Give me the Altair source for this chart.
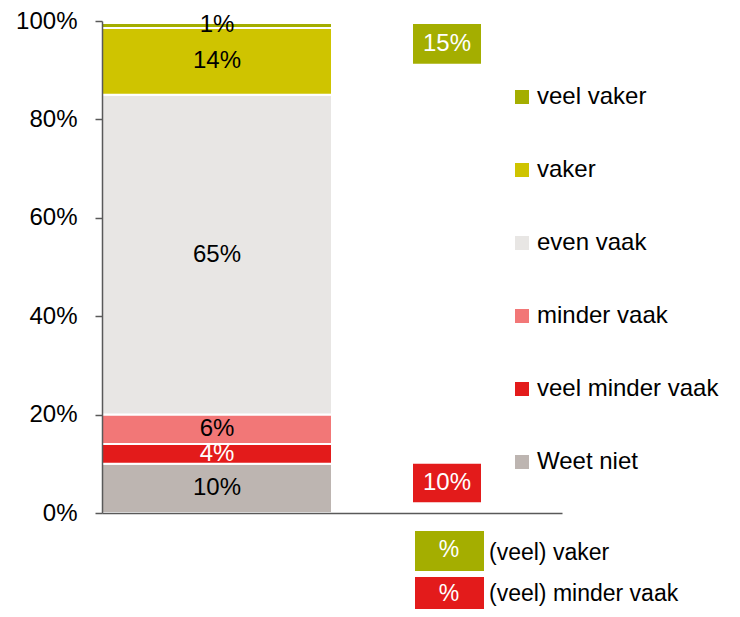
import altair as alt
import pandas as pd

# ---- data ----
segments = ["Weet niet", "veel minder vaak", "minder vaak", "even vaak", "vaker", "veel vaker"]
values = [10, 4, 6, 65, 13.6, 1.0]
label_fill = ["black", "white", "black", "black", "black", "black"]

legend_order = ["veel vaker", "vaker", "even vaak", "minder vaak", "veel minder vaak", "Weet niet"]
legend_colors = ["#A4AE00", "#CFC400", "#E8E6E4", "#F27777", "#E31B1B", "#BDB5B1"]

y_ticks = [0, 20, 40, 60, 80, 100]
columns = ["A", "B"]

FONT = "Liberation Sans"
FS = 24
KFS = 23
AXIS_COLOR = "#595959"
GREEN = "#A4AE00"
RED = "#E31B1B"

# ---- tables built from the arrays ----
rows = []
acc = 0.0
for seg, v, f in zip(segments, values, label_fill):
    rows.append({"col": "A", "seg": seg, "start": acc, "end": acc + v,
                 "mid": acc + v / 2, "label": f"{round(v)}%", "tfill": f})
    acc += v
bar_df = pd.DataFrame(rows)

more = values[4] + values[5]
less = values[1] + values[2]
summary_df = pd.DataFrame([
    {"col": "B", "y": 91.3, "y2": 99.4, "label": f"{round(more)}%", "fill": GREEN},
    {"col": "B", "y": 2.2, "y2": 10.0, "label": f"{round(less)}%", "fill": RED},
])
summary_df["ym"] = (summary_df["y"] + summary_df["y2"]) / 2

xscale = alt.Scale(domain=columns, paddingInner=0, paddingOuter=0)
yscale = alt.Scale(domain=[0, 100], nice=False)

bars = alt.Chart(bar_df).mark_bar(stroke="white", strokeWidth=2).encode(
    x=alt.X("col:N", scale=xscale,
            axis=alt.Axis(title=None, labels=False, ticks=False, domainColor=AXIS_COLOR,
                          domainWidth=1.5, orient="bottom", zindex=1)),
    y=alt.Y("start:Q", scale=yscale,
            axis=alt.Axis(title=None, values=y_ticks, labelExpr="datum.value + '%'",
                          grid=False, domainColor=AXIS_COLOR, domainWidth=1.5,
                          tickColor=AXIS_COLOR, tickWidth=1.5, tickSize=7,
                          labelPadding=18, labelFontSize=FS, labelFont=FONT,
                          labelColor="black", zindex=1)),
    y2="end:Q",
    color=alt.Color("seg:N", scale=alt.Scale(domain=legend_order, range=legend_colors),
                    legend=alt.Legend(title=None, orient="none", legendX=408, legendY=64,
                                      symbolType="square", symbolSize=196,
                                      symbolStrokeWidth=0, labelFont=FONT,
                                      labelFontSize=FS, labelColor="black",
                                      labelOffset=3, rowPadding=49, padding=0,
                                      labelLimit=300)),
)

seg_text = alt.Chart(bar_df).mark_text(font=FONT, fontSize=FS).encode(
    x=alt.X("col:N", scale=xscale),
    y=alt.Y("mid:Q", scale=yscale),
    text="label:N",
    fill=alt.Fill("tfill:N", scale=None),
)

sum_box = alt.Chart(summary_df).mark_bar(width=68).encode(
    x=alt.X("col:N", scale=xscale),
    y=alt.Y("y:Q", scale=yscale),
    y2="y2:Q",
    fill=alt.Fill("fill:N", scale=None),
)
sum_text = alt.Chart(summary_df).mark_text(font=FONT, fontSize=FS, fill="white").encode(
    x=alt.X("col:N", scale=xscale),
    y=alt.Y("ym:Q", scale=yscale),
    text="label:N",
)

# ---- key below the plot ----
key_df = pd.DataFrame({"k": [0]})
key_base = alt.Chart(key_df)
g_box = key_base.mark_rect(color=GREEN).encode(
    x=alt.value(313), x2=alt.value(382), y=alt.value(510), y2=alt.value(550))
g_pct = key_base.mark_text(font=FONT, fontSize=KFS, fill="white").encode(
    x=alt.value(347), y=alt.value(529), text=alt.value("%"))
g_lbl = key_base.mark_text(font=FONT, fontSize=KFS, fill="black", align="left").encode(
    x=alt.value(387), y=alt.value(532), text=alt.value("(veel) vaker"))
r_box = key_base.mark_rect(color=RED).encode(
    x=alt.value(313), x2=alt.value(382), y=alt.value(556), y2=alt.value(596))
r_pct = key_base.mark_text(font=FONT, fontSize=KFS, fill="white").encode(
    x=alt.value(347), y=alt.value(573), text=alt.value("%"))
r_lbl = key_base.mark_text(font=FONT, fontSize=KFS, fill="black", align="left").encode(
    x=alt.value(387), y=alt.value(573), text=alt.value("(veel) minder vaak"))

chart = alt.layer(bars, seg_text, sum_box, sum_text,
                  g_box, g_pct, g_lbl, r_box, r_pct, r_lbl).properties(
    width=460, height=492,
    autosize=alt.AutoSizeParams(type="none"),
    padding={"left": 94, "top": 13, "right": 170, "bottom": 96},
).configure_view(stroke=None)

chart.save("out.html", embed_options={"renderer": "svg", "actions": False})
